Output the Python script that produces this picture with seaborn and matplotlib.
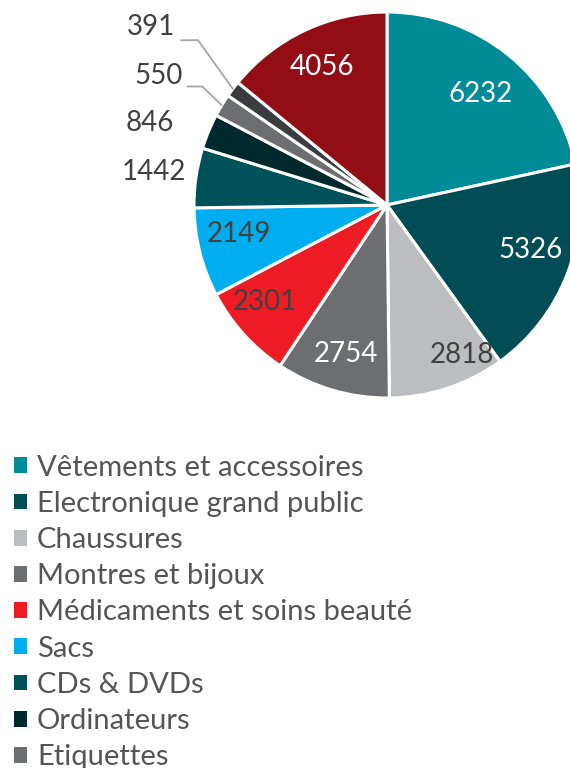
import numpy as np
import pandas as pd
import seaborn as sns
from matplotlib import pyplot as plt
from matplotlib.patches import Patch

sns.set_theme(style="white")
plt.rcParams['font.family'] = ['Lato', 'DejaVu Sans']

# data
categories = ['Vêtements et accessoires', 'Electronique grand public', 'Chaussures',
              'Montres et bijoux', 'Médicaments et soins beauté', 'Sacs',
              'CDs & DVDs', 'Ordinateurs', 'Etiquettes', '', '']
values = [6232, 5326, 2818, 2754, 2301, 2149, 1442, 846, 550, 391, 4056]
colors = ['#008B96', '#004D55', '#BCBDC0', '#6D6E71', '#ED1C24', '#00AEEF',
          '#00525A', '#00292E', '#6D6E71', '#3B3C3E', '#930E14']
n_legend = 9

df = pd.DataFrame({'cat': categories, 'val': values, 'col': colors})

# label styling (radius, angle offset in degrees, colour)
label_r = [0.75, 0.78, 0.87, 0.80, 0.81, 0.78, 1.22, 1.30, 1.36, 1.53, 0.79]
label_da = [-1.3, 3.4, 8.3, 1.2, -3.5, -3.1, 0, 3.3, 1.7, 0, 0]
label_col = ['white', 'white', '#404040', 'white', '#404040', '#404040',
             '#404040', '#404040', '#404040', '#404040', 'white']
# leader lines: index -> (length to elbow, elbow angle, horizontal length)
leaders = {8: (0.14, 136, 0.078), 9: (0.31, 125.5, 0.088)}

W, H = 570, 768
fig = plt.figure(figsize=(W / 100, H / 100), dpi=100)
cx, cy, r = 387, 205, 193
ax = fig.add_axes([(cx - r) / W, (H - cy - r) / H, 2 * r / W, 2 * r / H])

wedges, _ = ax.pie(df['val'], colors=df['col'], startangle=90, counterclock=False,
                   radius=1, wedgeprops=dict(edgecolor='white', linewidth=2.2))
ax.set_xlim(-1, 1)
ax.set_ylim(-1, 1)
ax.set_axis_off()

for i, w in enumerate(wedges):
    mid = (w.theta1 + w.theta2) / 2
    ang = np.deg2rad(mid + label_da[i])
    x, y = label_r[i] * np.cos(ang), label_r[i] * np.sin(ang)
    ax.text(x, y, str(df['val'][i]), ha='center', va='center', fontsize=20,
            color=label_col[i], clip_on=False)
    if i in leaders:
        l1, a1, l2 = leaders[i]
        m = np.deg2rad(mid)
        x0, y0 = np.cos(m), np.sin(m)
        x1 = x0 + l1 * np.cos(np.deg2rad(a1))
        y1 = y0 + l1 * np.sin(np.deg2rad(a1))
        ax.plot([x0, x1, x1 - l2], [y0, y1, y1], color='#A6A6A6', lw=1.3,
                clip_on=False, solid_joinstyle='miter')

handles = [Patch(facecolor=c, edgecolor='none') for c in df['col'][:n_legend]]
fig.legend(handles, list(df['cat'][:n_legend]), loc='upper left',
           bbox_to_anchor=(2 / W, 1 - 443 / H), frameon=False, fontsize=21,
           handlelength=0.45, handleheight=0.45, handletextpad=0.35,
           labelspacing=0.35, labelcolor='#555555', borderaxespad=0)

fig.savefig('out.png', dpi=100)
